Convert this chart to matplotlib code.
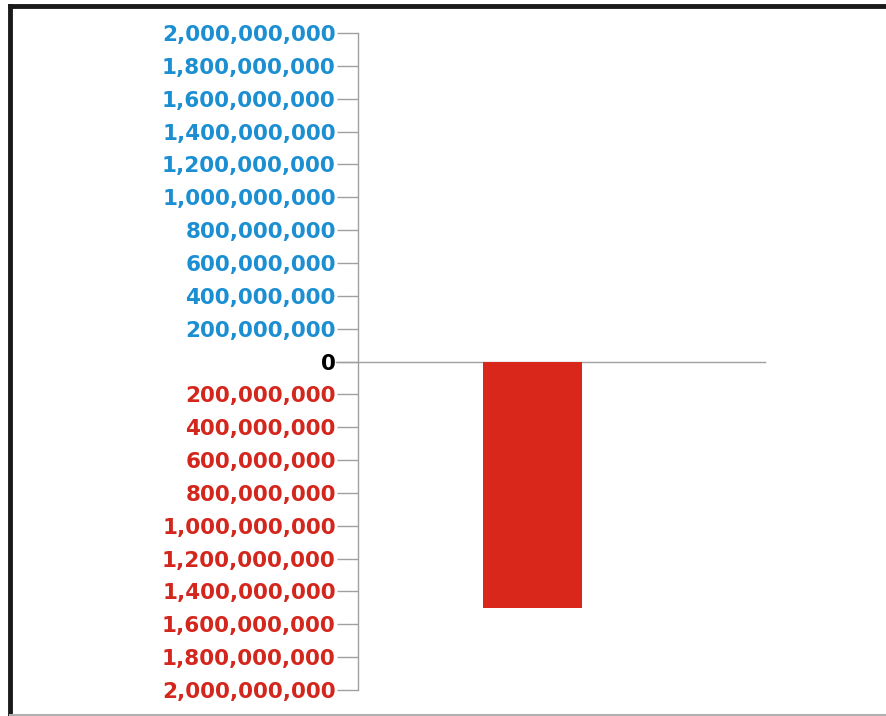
import matplotlib
matplotlib.use("Agg")
import matplotlib.pyplot as plt
from matplotlib.lines import Line2D

categories = ["A"]
values = [-1.5e9]
tick_values = [2e9, 1.8e9, 1.6e9, 1.4e9, 1.2e9, 1e9, 8e8, 6e8, 4e8, 2e8, 0,
               -2e8, -4e8, -6e8, -8e8, -1e9, -1.2e9, -1.4e9, -1.6e9, -1.8e9, -2e9]

BLUE = "#1b8fd2"
RED = "#d3261d"
BAR = "#d9271c"
GRAY = "#a0a0a0"

fig = plt.figure(figsize=(8.87, 7.16), dpi=100)
fig.patch.set_facecolor("white")
ax = fig.add_axes([358/887, 1-690/716, 407/887, (690-33)/716])

ax.bar(range(len(categories)), values, width=0.6, color=BAR, zorder=2)
ax.set_xlim(-1.06, 1.41)
ax.set_ylim(-2e9, 2e9)

ax.set_yticks(tick_values)
ax.set_yticklabels([f"{abs(int(v)):,}" for v in tick_values])
for lbl, v in zip(ax.get_yticklabels(), tick_values):
    lbl.set_color(BLUE if v > 0 else (RED if v < 0 else "black"))
    lbl.set_fontfamily("DejaVu Sans")
    lbl.set_fontweight("bold")
    lbl.set_fontsize(15.5)

ax.tick_params(axis="y", length=15, width=1, color=GRAY, pad=1)
ax.set_xticks([])
for s in ["top", "right", "bottom"]:
    ax.spines[s].set_visible(False)
ax.spines["left"].set_color(GRAY)
ax.spines["left"].set_linewidth(1)

ax.axhline(0, xmin=-0.055, xmax=1.0, color=GRAY, linewidth=1, clip_on=False, zorder=1)

# figure border
fig.add_artist(Line2D([10/887, 1.0], [1-6/716, 1-6/716], transform=fig.transFigure, color="#1a1a1a", linewidth=3.5))
fig.add_artist(Line2D([10/887, 10/887], [0, 1-6/716], transform=fig.transFigure, color="#1a1a1a", linewidth=3.5))
fig.add_artist(Line2D([10/887, 1.0], [1/716, 1/716], transform=fig.transFigure, color="#b0b0b0", linewidth=1.5))

fig.savefig("out.png", dpi=100, facecolor="white")
